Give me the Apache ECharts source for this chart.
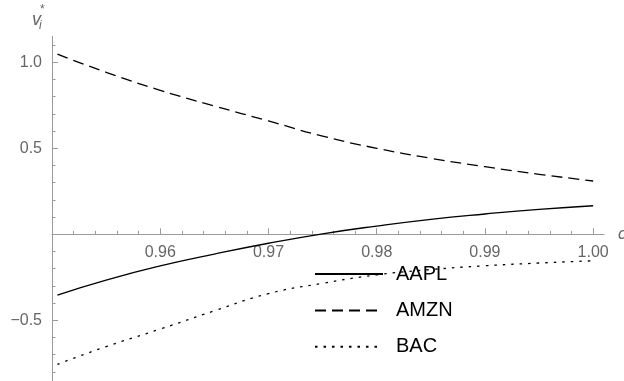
<!DOCTYPE html>
<html>
<head>
<meta charset="utf-8">
<script src="https://cdn.jsdelivr.net/npm/echarts@6/dist/echarts.min.js"></script>
<style>
  html, body { margin: 0; padding: 0; background: #fff; }
  #chart { width: 624px; height: 381px; }
</style>
</head>
<body>
<div id="chart"></div>
<script>
// ---- data ----
const cValues = [0.9505, 0.955, 0.96, 0.965, 0.97, 0.975, 0.98, 0.985, 0.99, 0.995, 1.0];
const aapl = [-0.353, -0.266, -0.184, -0.115, -0.052, 0.003, 0.048, 0.087, 0.118, 0.145, 0.166];
const amzn = [1.047, 0.942, 0.837, 0.746, 0.659, 0.571, 0.500, 0.442, 0.393, 0.349, 0.310];
const bac  = [-0.756, -0.653, -0.551, -0.445, -0.345, -0.285, -0.236, -0.205, -0.183, -0.167, -0.154];
const seriesNames = ['AAPL', 'AMZN', 'BAC'];

// axis ranges / tick steps
const xRange = [0.95, 1.001];      // full x axis line
const xTickRange = [0.95, 1.0];    // labelled part
const xMajorStep = 0.01;
const yRange = [-0.85, 1.15];
const yMajorRange = [-0.5, 1.0];
const yMajorStep = 0.5;
const yMinorRange = [-0.8, 1.1];
const yMinorStep = 0.1;

const FONT = "'Liberation Sans', Arial, sans-serif";
const AXIS = '#9a9a9a';
const LABEL = '#666666';

// layout (pixels)
const L = 52, R = 20, TOP = 36.5, H = 344;
const PX_PER_Y = H / (yRange[1] - yRange[0]);
const PX_PER_X = (624 - L - R) / (xRange[1] - xRange[0]);
const yPix = v => TOP + (yRange[1] - v) * PX_PER_Y;
const ZERO_Y = yPix(0);

function pairs(ys) { return cValues.map((c, i) => [c, ys[i]]); }

const chart = echarts.init(document.getElementById('chart'), null, { renderer: 'canvas' });

const hiddenX = (gi, range) => ({ type: 'value', gridIndex: gi, min: range[0], max: range[1], show: false });
const hiddenY = (gi) => ({ type: 'value', gridIndex: gi, min: 0, max: 1, show: false });
const noLine = { show: false, onZero: false };

chart.setOption({
  animation: false,
  backgroundColor: '#ffffff',
  grid: [
    // 0: plot area
    { left: L, right: R, top: TOP, height: H, containLabel: false, outerBoundsMode: 'none' },
    // 1: x axis line at y = 0 (full length) + name
    { left: L, right: R, top: TOP, height: ZERO_Y - TOP, containLabel: false, outerBoundsMode: 'none' },
    // 2: x ticks + labels at y = 0
    { left: L, width: (xTickRange[1] - xTickRange[0]) * PX_PER_X, top: TOP, height: ZERO_Y - TOP,
      containLabel: false, outerBoundsMode: 'none' },
    // 3: y major ticks + labels
    { left: L, right: R, top: yPix(yMajorRange[1]), height: (yMajorRange[1] - yMajorRange[0]) * PX_PER_Y,
      containLabel: false, outerBoundsMode: 'none' },
    // 4: y minor ticks
    { left: L, right: R, top: yPix(yMinorRange[1]), height: (yMinorRange[1] - yMinorRange[0]) * PX_PER_Y,
      containLabel: false, outerBoundsMode: 'none' }
  ],
  xAxis: [
    { type: 'value', gridIndex: 0, min: xRange[0], max: xRange[1], position: 'bottom',
      axisLine: noLine, axisTick: { show: false }, axisLabel: { show: false }, splitLine: { show: false } },
    { type: 'value', gridIndex: 1, min: xRange[0], max: xRange[1], position: 'bottom',
      axisLine: { show: true, onZero: false, lineStyle: { color: AXIS, width: 1 } },
      axisTick: { show: false }, axisLabel: { show: false }, splitLine: { show: false },
      name: 'c', nameLocation: 'end', nameGap: 14,
      nameTextStyle: { color: LABEL, fontSize: 17, fontFamily: FONT, fontStyle: 'italic' } },
    { type: 'value', gridIndex: 2, min: xTickRange[0], max: xTickRange[1], interval: xMajorStep, position: 'bottom',
      axisLine: noLine,
      axisTick: { show: true, inside: true, length: 6, lineStyle: { color: AXIS } },
      minorTick: { show: true, splitNumber: 5, length: 3.5, lineStyle: { color: AXIS } },
      axisLabel: { show: true, showMinLabel: false, margin: 10, color: LABEL, fontSize: 16, fontFamily: FONT,
        formatter: v => (Math.abs(v - xTickRange[0]) < 1e-9 ? '' : v.toFixed(2)) },
      splitLine: { show: false }, minorSplitLine: { show: false } },
    hiddenX(3, [0, 1]),
    hiddenX(4, [0, 1])
  ],
  yAxis: [
    { type: 'value', gridIndex: 0, min: yRange[0], max: yRange[1], position: 'left',
      axisLine: { show: true, onZero: false, lineStyle: { color: AXIS, width: 1 } },
      axisTick: { show: false }, axisLabel: { show: false }, splitLine: { show: false } },
    hiddenY(1),
    hiddenY(2),
    { type: 'value', gridIndex: 3, min: yMajorRange[0], max: yMajorRange[1], interval: yMajorStep, position: 'left',
      axisLine: noLine,
      axisTick: { show: true, inside: true, length: 6, lineStyle: { color: AXIS } },
      axisLabel: { show: true, margin: 10, color: LABEL, fontSize: 16, fontFamily: FONT,
        formatter: v => (Math.abs(v) < 1e-9 ? '' : (v < 0 ? '\u2212' : '') + Math.abs(v).toFixed(1)) },
      splitLine: { show: false } },
    { type: 'value', gridIndex: 4, min: yMinorRange[0], max: yMinorRange[1], interval: yMinorStep, position: 'left',
      axisLine: noLine,
      axisTick: { show: true, inside: true, length: 3.5, lineStyle: { color: AXIS } },
      axisLabel: { show: false }, splitLine: { show: false } }
  ],
  legend: {
    orient: 'vertical',
    left: 314,
    top: 264,
    padding: 0,
    itemWidth: 68,
    itemHeight: 14,
    itemGap: 16.4,
    data: seriesNames,
    itemStyle: { color: 'rgba(0,0,0,0)', borderWidth: 0 },
    textStyle: { color: '#000', fontSize: 20, fontFamily: FONT, lineHeight: 20, padding: [0, 0, 0, 8] }
  },
  graphic: [
    { type: 'text', x: 32, y: 11, silent: true,
      style: { text: 'v', font: "italic 18px 'Liberation Sans', Arial, sans-serif", fill: LABEL, verticalAlign: 'top' } },
    { type: 'text', x: 39, y: 20, silent: true,
      style: { text: 'i', font: "italic 12px 'Liberation Sans', Arial, sans-serif", fill: LABEL, verticalAlign: 'top' } },
    { type: 'text', x: 40, y: 4, silent: true,
      style: { text: '*', font: "12px 'Liberation Sans', Arial, sans-serif", fill: LABEL, verticalAlign: 'top' } }
  ],
  series: [
    { name: seriesNames[0], type: 'line', xAxisIndex: 0, yAxisIndex: 0, data: pairs(aapl),
      showSymbol: false, symbol: 'none', smooth: 0.5,
      lineStyle: { color: '#000', width: 1.3, type: 'solid' }, itemStyle: { color: '#000' } },
    { name: seriesNames[1], type: 'line', xAxisIndex: 0, yAxisIndex: 0, data: pairs(amzn),
      showSymbol: false, symbol: 'none', smooth: 0.5,
      lineStyle: { color: '#000', width: 1.3, type: [11, 6] }, itemStyle: { color: '#000' } },
    { name: seriesNames[2], type: 'line', xAxisIndex: 0, yAxisIndex: 0, data: pairs(bac),
      showSymbol: false, symbol: 'none', smooth: 0.5,
      lineStyle: { color: '#000', width: 1.3, type: [2.5, 6] }, itemStyle: { color: '#000' } }
  ]
});
</script>
</body>
</html>
